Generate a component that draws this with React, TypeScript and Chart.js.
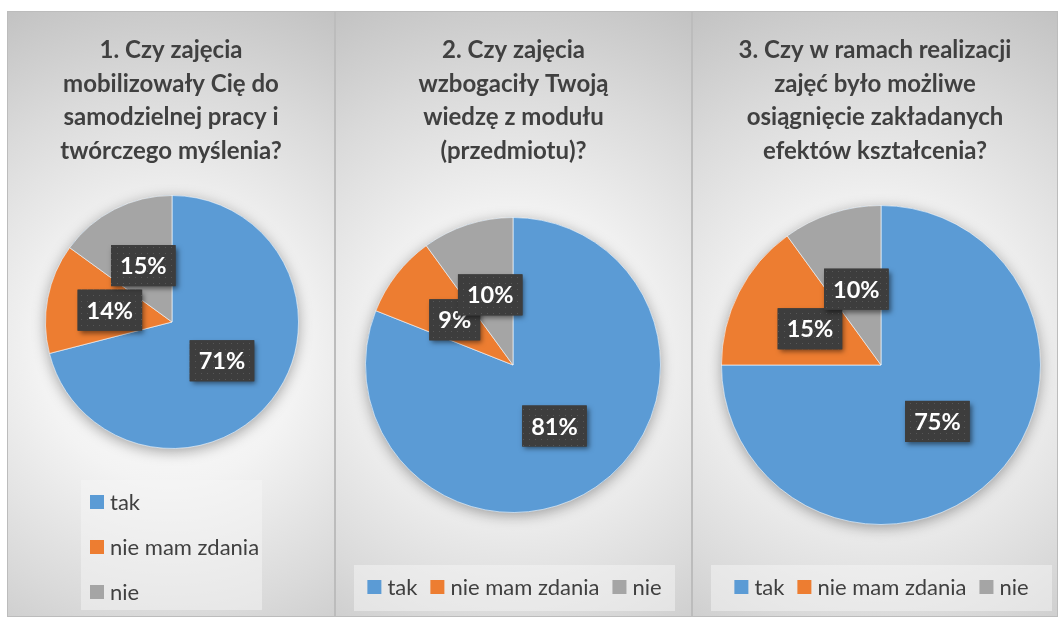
import React, { useEffect, useRef } from 'react';
import { Chart, registerables } from 'chart.js';

Chart.register(...registerables);

// ---------- data ----------
const categories = ['tak', 'nie mam zdania', 'nie'];
const sliceColors = ['#5B9BD5', '#ED7D31', '#A5A5A5'];

const values1 = [71, 14, 15];
const values2 = [81, 9, 10];
const values3 = [75, 15, 10];

const title1 = ['1. Czy zajęcia', 'mobilizowały Cię do', 'samodzielnej pracy i', 'twórczego myślenia?'];
const title2 = ['2. Czy zajęcia', 'wzbogaciły Twoją', 'wiedzę z modułu', '(przedmiotu)?'];
const title3 = ['3. Czy w ramach realizacji', 'zajęć było możliwe', 'osiągnięcie zakładanych', 'efektów kształcenia?'];

// ---------- layout ----------
type LegendCfg =
  | { mode: 'vertical'; x: number; y0: number; dy: number; box: { x: number; y: number; w: number; h: number } }
  | { mode: 'row'; cx: number; cy: number; gap: number; box: { x: number; y: number; w: number; h: number } };

interface PanelCfg {
  x: number;
  y: number;
  w: number;
  h: number;
  values: number[];
  title: string[];
  padding: { left: number; top: number; right: number; bottom: number };
  legend: LegendCfg;
}

const panels: PanelCfg[] = [
  {
    x: 7, y: 11, w: 328, h: 606,
    values: values1, title: title1,
    padding: { left: 38, top: 184, right: 36, bottom: 168 },
    legend: { mode: 'vertical', x: 83, y0: 491, dy: 45, box: { x: 74, y: 469, w: 181, h: 130 } },
  },
  {
    x: 335, y: 11, w: 357, h: 606,
    values: values2, title: title2,
    padding: { left: 30, top: 206, right: 31, bottom: 104 },
    legend: { mode: 'row', cx: 179.5, cy: 576, gap: 13, box: { x: 19, y: 554, w: 321, h: 46 } },
  },
  {
    x: 692, y: 11, w: 366, h: 606,
    values: values3, title: title3,
    padding: { left: 29, top: 194, right: 17, bottom: 92 },
    legend: { mode: 'row', cx: 189.5, cy: 576, gap: 13, box: { x: 19, y: 554, w: 341, h: 46 } },
  },
];

const TEXT_COLOR = '#404040';
const TITLE_FONT = 'bold 24px Lato';
const LABEL_FONT = 'bold 23.5px Lato';
const LEGEND_FONT = '22px Lato';

let patternCache: CanvasPattern | null = null;
function getPattern(ctx: CanvasRenderingContext2D) {
  if (patternCache) return patternCache;
  const c = document.createElement('canvas');
  c.width = 6;
  c.height = 6;
  const p = c.getContext('2d')!;
  p.fillStyle = '#3d3d3d';
  p.fillRect(0, 0, 6, 6);
  p.fillStyle = '#575757';
  p.fillRect(2, 2, 1, 1);
  patternCache = ctx.createPattern(c, 'repeat');
  return patternCache;
}

const decorPlugin = {
  id: 'decor',
  beforeDraw(chart: any, _args: any, opts: any) {
    const { ctx, width, height } = chart;
    ctx.save();
    const cx = width / 2;
    const cy = height * 0.56;
    const R = Math.hypot(width / 2, height * 0.56);
    const g = ctx.createRadialGradient(cx, cy, 0, cx, cy, R);
    g.addColorStop(0, '#ffffff');
    g.addColorStop(0.35, '#f3f3f3');
    g.addColorStop(0.7, '#dadada');
    g.addColorStop(1, '#c2c2c2');
    ctx.fillStyle = g;
    ctx.fillRect(0, 0, width, height);
    ctx.strokeStyle = '#bcbcbc';
    ctx.lineWidth = 1;
    ctx.strokeRect(0.5, 0.5, width - 1, height - 1);

    // legend background
    const lb = opts.legend.box;
    ctx.fillStyle = 'rgba(245,245,245,0.5)';
    ctx.fillRect(lb.x, lb.y, lb.w, lb.h);

    // title
    ctx.fillStyle = TEXT_COLOR;
    ctx.font = TITLE_FONT;
    ctx.textAlign = 'center';
    ctx.textBaseline = 'alphabetic';
    (opts.title as string[]).forEach((t, i) => {
      ctx.fillText(t, width / 2, opts.titleY + i * opts.titleLH);
    });
    ctx.restore();
  },
  beforeDatasetsDraw(chart: any) {
    const { ctx } = chart;
    const arc = chart.getDatasetMeta(0).data[0];
    if (!arc) return;
    const { x, y, outerRadius } = arc.getProps(['x', 'y', 'outerRadius'], true);
    ctx.save();
    ctx.shadowColor = 'rgba(0,0,0,0.35)';
    ctx.shadowBlur = 14;
    ctx.shadowOffsetY = 3;
    ctx.beginPath();
    ctx.arc(x, y, outerRadius, 0, Math.PI * 2);
    ctx.fillStyle = sliceColors[0];
    ctx.fill();
    ctx.restore();
  },
  afterDatasetsDraw(chart: any) {
    const { ctx } = chart;
    const meta = chart.getDatasetMeta(0);
    const data = chart.data.datasets[0].data as number[];
    ctx.save();
    ctx.font = LABEL_FONT;
    meta.data.forEach((arc: any, i: number) => {
      const p = arc.getCenterPoint();
      const text = data[i] + '%';
      const tw = ctx.measureText(text).width;
      const bw = tw + 18;
      const bh = 41;
      const bx = p.x - bw / 2;
      const by = p.y - bh / 2;
      ctx.save();
      ctx.shadowColor = 'rgba(0,0,0,0.5)';
      ctx.shadowBlur = 5;
      ctx.shadowOffsetX = 2;
      ctx.shadowOffsetY = 3;
      ctx.fillStyle = '#3d3d3d';
      ctx.fillRect(bx, by, bw, bh);
      ctx.restore();
      ctx.fillStyle = getPattern(ctx) || '#3d3d3d';
      ctx.fillRect(bx, by, bw, bh);
      ctx.fillStyle = '#ffffff';
      ctx.textAlign = 'center';
      ctx.textBaseline = 'middle';
      ctx.fillText(text, p.x, p.y + 1);
    });
    ctx.restore();
  },
  afterDraw(chart: any, _args: any, opts: any) {
    const { ctx } = chart;
    const labels = chart.data.labels as string[];
    const colors = chart.data.datasets[0].backgroundColor as string[];
    const lg = opts.legend as LegendCfg;
    ctx.save();
    ctx.font = LEGEND_FONT;
    ctx.textBaseline = 'middle';
    ctx.textAlign = 'left';
    const M = 14;
    const G = 6;
    if (lg.mode === 'vertical') {
      labels.forEach((l, i) => {
        const cy = lg.y0 + i * lg.dy;
        ctx.fillStyle = colors[i];
        ctx.fillRect(lg.x, cy - M / 2, M, M);
        ctx.fillStyle = TEXT_COLOR;
        ctx.fillText(l, lg.x + M + G, cy + 1);
      });
    } else {
      const widths = labels.map((l) => ctx.measureText(l).width);
      const total = widths.reduce((a, w) => a + M + G + w, 0) + lg.gap * (labels.length - 1);
      let x = lg.cx - total / 2;
      labels.forEach((l, i) => {
        ctx.fillStyle = colors[i];
        ctx.fillRect(x, lg.cy - M / 2, M, M);
        ctx.fillStyle = TEXT_COLOR;
        ctx.fillText(l, x + M + G, lg.cy + 1);
        x += M + G + widths[i] + lg.gap;
      });
    }
    ctx.restore();
  },
};

function PiePanel({ cfg }: { cfg: PanelCfg }) {
  const ref = useRef<HTMLCanvasElement>(null);
  useEffect(() => {
    const chart = new Chart(ref.current!, {
      type: 'pie',
      data: {
        labels: categories,
        datasets: [
          {
            data: cfg.values,
            backgroundColor: sliceColors,
            borderColor: 'rgba(255,255,255,0.6)',
            borderWidth: 1,
          },
        ],
      },
      options: {
        responsive: false,
        animation: false,
        devicePixelRatio: 1,
        events: [],
        layout: { padding: cfg.padding },
        plugins: {
          legend: { display: false },
          tooltip: { enabled: false },
          title: { display: false },
          // @ts-ignore
          decor: { title: cfg.title, titleY: 47, titleLH: 33.5, legend: cfg.legend },
        },
      } as any,
      plugins: [decorPlugin as any],
    });
    return () => chart.destroy();
  }, [cfg]);
  return (
    <canvas
      ref={ref}
      width={cfg.w}
      height={cfg.h}
      style={{ position: 'absolute', left: cfg.x, top: cfg.y, width: cfg.w, height: cfg.h }}
    />
  );
}

export default function App() {
  return (
    <div style={{ position: 'absolute', left: 0, top: 0, width: 1058, height: 619, background: '#ffffff', overflow: 'hidden' }}>
      {panels.map((p, i) => (
        <PiePanel key={i} cfg={p} />
      ))}
    </div>
  );
}
